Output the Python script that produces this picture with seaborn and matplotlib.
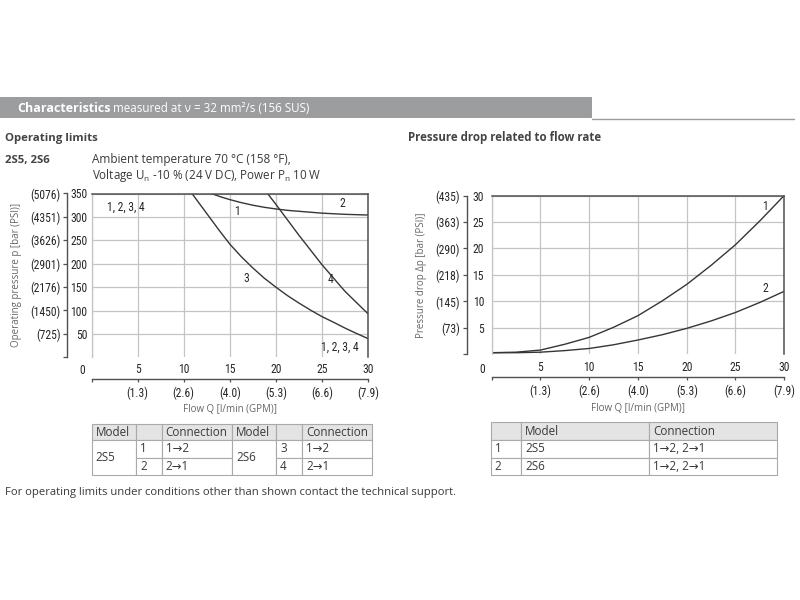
import matplotlib.pyplot as plt
import numpy as np
import pandas as pd
import seaborn as sns
from matplotlib.patches import Rectangle

# ------------------------------------------------------------
# data
# ------------------------------------------------------------
# operating limits, flow Q [l/min] vs pressure p [bar]
op_q1 = [13.0, 14.0, 15.0, 16.25, 17.5, 18.75, 20.0, 21.25, 22.5, 25.0, 27.5, 30.0]
op_p1 = [350, 343, 337, 330.5, 325, 320.5, 317, 314, 312, 308, 305.5, 304]
op_q3 = [10.9, 11.8, 12.85, 13.9, 15.0, 16.25, 17.5, 18.75, 20.0, 21.25, 22.5,
         23.75, 25.0, 26.25, 27.5, 28.75, 30.0]
op_p3 = [350, 326, 298, 270, 242, 215, 191, 169, 150, 132, 116,
         101, 87, 75, 62.5, 51, 40]
op_q4 = [19.1, 20.0, 22.5, 25.0, 27.5, 30.0]
op_p4 = [350, 327, 261, 198, 141, 93]

# pressure drop, flow Q [l/min] vs dp [bar]
dp_q = [0, 2.5, 5, 7.5, 10, 12.5, 15, 17.5, 20, 22.5, 25, 27.5, 30]
dp_1 = [0.3, 0.4, 0.8, 1.9, 3.2, 5.1, 7.3, 10.1, 13.2, 16.8, 20.7, 25.2, 30.0]
dp_2 = [0.3, 0.3, 0.4, 0.7, 1.1, 1.8, 2.7, 3.7, 4.9, 6.3, 7.9, 9.8, 11.9]

q_ticks = [0, 5, 10, 15, 20, 25, 30]
gpm_labels = ["", "(1.3)", "(2.6)", "(4.0)", "(5.3)", "(6.6)", "(7.9)"]
op_ticks = [0, 50, 100, 150, 200, 250, 300, 350]
op_psi = ["", "(725)", "(1450)", "(2176)", "(2901)", "(3626)", "(4351)", "(5076)"]
dp_ticks = [0, 5, 10, 15, 20, 25, 30]
dp_psi = ["", "(73)", "(145)", "(218)", "(290)", "(363)", "(435)"]

# curve labels: text, x, y
op_labels = [("1, 2, 3, 4", 3.7, 321), ("1", 15.8, 312), ("2", 27.2, 329),
             ("3", 16.8, 169), ("4", 25.9, 166), ("1, 2, 3, 4", 26.9, 21)]
dp_labels = [("1", 28.05, 28.0), ("2", 28.05, 12.4)]

# tables
left_header = ["Model", "", "Connection", "Model", "", "Connection"]
left_models = ["2S5", "2S6"]
left_curves = [["1", "2"], ["3", "4"]]
left_conn = [["1\u21922", "2\u21921"], ["1\u21922", "2\u21921"]]
right_header = ["", "Model", "Connection"]
right_rows = [["1", "2S5", "1\u21922, 2\u21921"],
              ["2", "2S6", "1\u21922, 2\u21921"]]

# ------------------------------------------------------------
sns.set_theme(style="white")
plt.rcParams["font.family"] = ["Open Sans", "DejaVu Sans"]
TICK_FONT = ["Liberation Sans Narrow", "Roboto Condensed", "Liberation Sans", "DejaVu Sans"]
TXT = "#3a3a3a"
TICK_TXT = "#262626"
GRID = "#c4c4c4"
LINE = "#363636"

fig = plt.figure(figsize=(8, 6), dpi=100)
fig.patch.set_facecolor("white")


def px_rect(l, t, r, b):
    return [l / 800, 1 - b / 600, (r - l) / 800, (b - t) / 600]


def style_chart(ax, yticks, ylabels, psi, ypad, xpad, yloc, xloc, ylab):
    ax.set_xlim(0, 30)
    ax.set_ylim(yticks[0], yticks[-1])
    ax.set_facecolor("none")
    ax.set_xticks(q_ticks)
    ax.set_xticklabels([""] + [str(t) for t in q_ticks[1:]])
    ax.set_yticks(yticks[1:])
    ax.set_yticklabels(ylabels)
    ax.tick_params(axis="both", length=0, labelsize=8.4, colors=TICK_TXT)
    ax.tick_params(axis="y", pad=ypad)
    ax.tick_params(axis="x", pad=xpad)
    for lbl in ax.get_xticklabels() + ax.get_yticklabels():
        lbl.set_family(TICK_FONT)
    ax.grid(True, color=GRID, lw=0.9)
    ax.spines["bottom"].set_visible(False)
    ax.spines["left"].set_color(GRID)
    ax.spines["left"].set_linewidth(0.9)
    for s in ("top", "right"):
        ax.spines[s].set_color("#505050")
        ax.spines[s].set_linewidth(1.1)
    ax.annotate("0", xy=(0, 0), xycoords="data", xytext=(-7, -xpad - 1),
                textcoords="offset points", ha="center", va="top",
                fontsize=8.4, color=TICK_TXT, family=TICK_FONT, annotation_clip=False)

    sy = ax.secondary_yaxis(yloc)
    sy.set_yticks(yticks)
    sy.set_yticklabels(psi)
    sy.tick_params(direction="out", length=3, width=0.9, pad=2, labelsize=8.4,
                   colors="#505050", labelcolor=TICK_TXT)
    sy.spines["left"].set_color("#505050")
    sy.spines["left"].set_linewidth(1.0)
    for lbl in sy.get_yticklabels():
        lbl.set_family(TICK_FONT)
    sy.set_ylabel(ylab, fontsize=7, color="#666666", labelpad=6)

    sx = ax.secondary_xaxis(xloc)
    sx.set_xticks(q_ticks)
    sx.set_xticklabels(gpm_labels)
    sx.tick_params(direction="out", length=2.5, width=0.9, pad=2.5, labelsize=8.4,
                   colors="#505050", labelcolor=TICK_TXT)
    sx.spines["bottom"].set_color("#505050")
    sx.spines["bottom"].set_linewidth(1.0)
    for lbl in sx.get_xticklabels():
        lbl.set_family(TICK_FONT)
    sx.set_xlabel("Flow Q [l/min (GPM)]", fontsize=7, color="#666666", labelpad=3.5)


# ---- operating limits ----
ax1 = fig.add_axes(px_rect(91.5, 193.5, 368, 357.3))
for q, p in [(op_q1, op_p1), (op_q3, op_p3), (op_q4, op_p4)]:
    sns.lineplot(x=q, y=p, ax=ax1, color=LINE, lw=1.0, sort=False)
style_chart(ax1, op_ticks, [str(t) for t in op_ticks[1:]], op_psi,
            3, 4, -0.0875, -0.134, "Operating pressure p [bar (PSI)]")
for t, x, y in op_labels:
    ax1.text(x, y, t, ha="center", va="center", fontsize=8.4, color=TICK_TXT,
             family=TICK_FONT)

# ---- pressure drop ----
ax2 = fig.add_axes(px_rect(491.7, 195.5, 784.2, 354.3))
sns.lineplot(x=dp_q, y=dp_1, ax=ax2, color=LINE, lw=1.0)
sns.lineplot(x=dp_q, y=dp_2, ax=ax2, color=LINE, lw=1.0)
style_chart(ax2, dp_ticks, [str(t) for t in dp_ticks[1:]], dp_psi,
            5.5, 5, -0.0855, -0.145, "Pressure drop \u0394p [bar (PSI)]")
for t, x, y in dp_labels:
    ax2.text(x, y, t, ha="center", va="center", fontsize=8.4, color=TICK_TXT,
             family=TICK_FONT)

# ---- page: header, captions, tables ----
page = fig.add_axes([0, 0, 1, 1], zorder=-1)
page.set_xlim(0, 800)
page.set_ylim(600, 0)
page.axis("off")

page.add_patch(Rectangle((0, 97), 592, 21, facecolor="#9c9d9f", edgecolor="none"))
page.plot([592, 794], [118.5, 118.5], color="#9c9d9f", lw=1.0)
page.text(17, 108, "Characteristics", color="white", fontsize=9, fontweight="bold",
          va="center", ha="left")
page.text(113, 108.5, "measured at \u03bd = 32 mm\u00b2/s (156 SUS)", color="white",
          fontsize=8.4, va="center", ha="left")

page.text(5, 138, "Operating limits", color="#444444", fontsize=8.2, fontweight="bold",
          va="center")
page.text(408, 138, "Pressure drop related to flow rate", color="#444444",
          fontsize=8.3, fontweight="bold", va="center")
page.text(5, 160, "2S5, 2S6", color="#444444", fontsize=8.2, fontweight="bold",
          va="center")
page.text(92, 159.5, "Ambient temperature 70 \u00b0C (158 \u00b0F),", color=TXT,
          fontsize=8.5, va="center")
page.text(92, 175, r"Voltage U$_\mathregular{n}$ -10 % (24 V DC), Power P$_\mathregular{n}$ 10 W",
          color=TXT, fontsize=8.4, va="center")
page.text(5, 493, "For operating limits under conditions other than shown contact the "
          "technical support.", color=TXT, fontsize=8.1, va="center")


def cell(x0, x1, y0, y1, text, fill="white"):
    page.add_patch(Rectangle((x0, y0), x1 - x0, y1 - y0, facecolor=fill,
                             edgecolor="#a9a9a9", lw=0.8))
    page.text(x0 + 4, (y0 + y1) / 2, text, ha="left", va="center", fontsize=8.4,
              color=TXT)


HEAD = "#e4e4e4"
lc = [91.7, 136, 161.7, 232.3, 276, 302.3, 372.3]
lr = [424.3, 440, 457.7, 475]
for i, h in enumerate(left_header):
    cell(lc[i], lc[i + 1], lr[0], lr[1], h, HEAD)
for m in range(2):
    c = 3 * m
    cell(lc[c], lc[c + 1], lr[1], lr[3], left_models[m])
    for r in range(2):
        cell(lc[c + 1], lc[c + 2], lr[r + 1], lr[r + 2], left_curves[m][r])
        cell(lc[c + 2], lc[c + 3], lr[r + 1], lr[r + 2], left_conn[m][r])

rc = [490.7, 521, 649.3, 776.7]
rr = [422.3, 440, 457.7, 475]
for i, h in enumerate(right_header):
    cell(rc[i], rc[i + 1], rr[0], rr[1], h, HEAD)
for r, row in enumerate(right_rows):
    for i, v in enumerate(row):
        cell(rc[i], rc[i + 1], rr[r + 1], rr[r + 2], v)

fig.savefig("out.png", dpi=100)
